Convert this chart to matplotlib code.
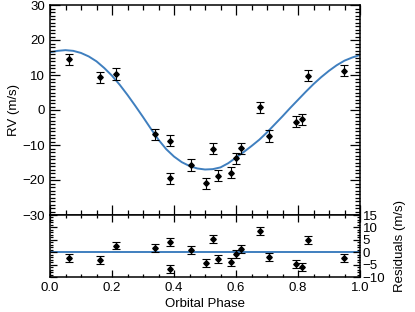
import matplotlib
matplotlib.use("Agg")
import matplotlib.pyplot as plt
from matplotlib.ticker import MultipleLocator

plt.rcParams['font.family'] = ['Liberation Sans', 'DejaVu Sans']

# data points
phase = [0.061, 0.161, 0.212, 0.340, 0.387, 0.387, 0.455, 0.502, 0.527, 0.543,
         0.583, 0.600, 0.615, 0.677, 0.706, 0.794, 0.812, 0.831, 0.948]
rv = [14.5, 9.4, 10.3, -6.9, -8.8, -19.5, -15.7, -20.9, -11.1, -18.8,
      -17.9, -13.8, -10.9, 0.8, -7.4, -3.3, -2.6, 9.8, 11.2]
rv_err = [1.6] * 19
resid = [-2.5, -3.2, 2.7, 1.7, 4.0, -6.6, 0.8, -4.2, 5.3, -2.9,
         -3.8, -0.7, 1.3, 8.6, -1.9, -4.9, -5.8, 4.8, -2.3]

# model curve
model_phase = [0.000, 0.025, 0.050, 0.075, 0.100, 0.125, 0.150, 0.175, 0.200, 0.225,
               0.250, 0.275, 0.300, 0.325, 0.350, 0.375, 0.400, 0.425, 0.450, 0.475,
               0.500, 0.525, 0.550, 0.575, 0.600, 0.625, 0.650, 0.675, 0.700, 0.725,
               0.750, 0.775, 0.800, 0.825, 0.850, 0.875, 0.900, 0.925, 0.950, 0.975, 1.000]
model_rv = [16.5, 16.9, 17.1, 16.9, 16.3, 15.3, 13.9, 12.0, 9.8, 7.2,
            4.3, 1.2, -2.0, -5.3, -8.5, -11.2, -13.3, -14.9, -16.0, -16.7,
            -17.0, -16.9, -16.4, -15.2, -13.6, -12.0, -10.3, -8.5, -6.4, -4.1,
            -1.8, 0.6, 2.9, 5.2, 7.4, 9.4, 11.2, 12.8, 14.1, 15.0, 15.7]

xticks = [0.0, 0.2, 0.4, 0.6, 0.8, 1.0]
rv_ticks = [-30, -20, -10, 0, 10, 20, 30]
res_ticks = [-10, -5, 0, 5, 10, 15]

line_color = '#3f7fbf'
fs = 9.5

fig = plt.figure(figsize=(4.15, 3.12), dpi=100)
W, H = 415, 312
ax1 = fig.add_axes([50 / W, 1 - 215 / H, 310 / W, 210 / H])
ax2 = fig.add_axes([50 / W, 1 - 277 / H, 310 / W, 62 / H])

ax1.plot(model_phase, model_rv, color=line_color, lw=1.4, zorder=1)
ax1.errorbar(phase, rv, yerr=rv_err, fmt='D', color='black', ms=2.8,
             elinewidth=0.8, capsize=3.2, capthick=0.8, zorder=2)
ax1.set_xlim(0, 1)
ax1.set_ylim(-30, 30)
ax1.set_yticks(rv_ticks)
ax1.yaxis.set_minor_locator(MultipleLocator(1))
ax1.set_xticks(xticks)
ax1.xaxis.set_minor_locator(MultipleLocator(0.05))
ax1.tick_params(axis='x', labelbottom=False)
ax1.set_ylabel('RV (m/s)', fontsize=fs, labelpad=2)

ax2.axhline(0, color=line_color, lw=1.4, zorder=1)
ax2.errorbar(phase, resid, yerr=rv_err, fmt='D', color='black', ms=2.8,
             elinewidth=0.8, capsize=3.2, capthick=0.8, zorder=2)
ax2.set_xlim(0, 1)
ax2.set_ylim(-10, 15)
ax2.set_yticks(res_ticks)
ax2.yaxis.set_minor_locator(MultipleLocator(1))
ax2.set_xticks(xticks)
ax2.xaxis.set_minor_locator(MultipleLocator(0.05))
ax2.tick_params(axis='y', labelleft=False, labelright=True)
ax2.yaxis.set_label_position('right')
ax2.set_ylabel('Residuals (m/s)', fontsize=fs, labelpad=6)
ax2.set_xlabel('Orbital Phase', fontsize=fs, labelpad=3)

for ax, maj, mnr in ((ax1, 7.5, 3.8), (ax2, 5, 2.5)):
    ax.tick_params(which='both', direction='in', top=True, bottom=True,
                   left=True, right=True, labelsize=fs, width=0.9)
    ax.tick_params(which='major', length=maj)
    ax.tick_params(which='minor', length=mnr)
    for s in ax.spines.values():
        s.set_linewidth(1.1)

ax2.tick_params(axis='y', which='major', pad=2)

fig.savefig('out.png', dpi=100)
